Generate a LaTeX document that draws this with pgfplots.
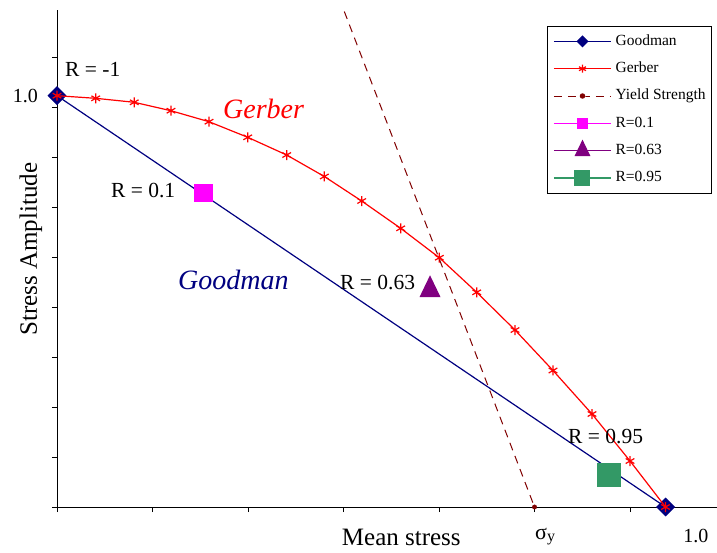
\documentclass[border=0pt]{standalone}
\usepackage{fontspec}
\setmainfont{Liberation Serif}
\usepackage{pgfplots}
\pgfplotsset{compat=1.18}
\definecolor{gnavy}{RGB}{0,0,128}
\definecolor{ydark}{RGB}{128,0,0}
\definecolor{rmag}{RGB}{255,0,255}
\definecolor{rpur}{RGB}{128,0,128}
\definecolor{rgreen}{RGB}{51,153,102}
\newcommand\fs[1]{\fontsize{#1}{#1}\selectfont}
\begin{document}
\begin{tikzpicture}
\useasboundingbox (-57pt,-45pt) rectangle (660pt,507pt);
\begin{axis}[
  at={(0pt,0pt)}, anchor=south west,
  scale only axis, width=660pt, height=497pt,
  xmin=0, xmax=1.0846, ymin=0, ymax=1.2084,
  axis x line=bottom, axis y line=left,
  axis line style={-, line width=1pt, black},
  xtick={0,0.15694,0.31389,0.47083,0.62778,0.78472,0.94167},
  ytick={0,0.1213,0.2426,0.3640,0.4853,0.6066,0.7279,0.8492,0.9706,1.0919},
  xticklabels={}, yticklabels={},
  tick align=outside, major tick length=5pt,
  tick style={black, line width=1pt},
  clip mode=individual,
  legend image code/.code={
    \path[draw=none, fill=none] (0pt,-10pt) rectangle (57pt,10pt);
    \draw[mark repeat=2,mark phase=2,#1] plot coordinates {(0pt,0pt) (28.5pt,0pt) (57pt,0pt)};
  },
  legend cell align=left,
  legend style={at={(0.7424,0.9678)}, anchor=north west, draw=black, line width=0.8pt, fill=white,
    inner xsep=6pt, inner ysep=5pt, row sep=7.3pt, column sep=4pt,
    font=\fs{15.5},
    nodes={inner sep=0pt, text height=11pt, text depth=3.5pt, anchor=west}},
]
\addplot[color=gnavy, line width=1.2pt, mark=square*, mark size=6.1pt,
  mark options={rotate=45, fill=gnavy, draw=gnavy},
  legend image post style={mark size=3.6pt}] coordinates {(0,1) (1,0)};
\addlegendentry{Goodman}
\addplot[color=red, line width=1.2pt, mark=asterisk, mark size=5pt,
  mark options={line width=1.2pt},
  legend image post style={mark size=4pt}] coordinates {
  (0,1) (0.0636,0.9937) (0.1269,0.9840) (0.1873,0.9635) (0.2498,0.9368)
  (0.3134,0.8989) (0.3775,0.8558) (0.4393,0.8036) (0.5007,0.7440)
  (0.5648,0.6776) (0.6283,0.6061) (0.6897,0.5220) (0.7527,0.4303)
  (0.8151,0.3319) (0.8792,0.2261) (0.9417,0.1118) (1.0,0)};
\addlegendentry{Gerber}
\addplot[color=ydark, line width=1pt, dash pattern=on 8pt off 6pt, mark=none,
  legend image post style={mark=*, mark size=2.2pt, mark options={solid}}]
  coordinates {(0.4474,1.3) (0.7847,0)};
\addlegendentry{Yield Strength}
\addplot[color=ydark, mark=*, mark size=2.2pt, only marks, forget plot] coordinates {(0.7847,0)};
\addplot[color=rmag, line width=1.2pt, mark=square*, mark size=8.6pt,
  mark options={fill=rmag},
  legend image post style={mark size=4.9pt}] coordinates {(0.2408,0.7639)};
\addlegendentry{R=0.1}
\addplot[color=rpur, line width=1.2pt, mark=triangle*, mark size=11pt,
  mark options={yscale=1.2, fill=rpur},
  legend image post style={mark size=8pt}] coordinates {(0.613,0.528)};
\addlegendentry{R=0.63}
\addplot[color=rgreen, line width=1.2pt, mark=square*, mark size=11.5pt,
  mark options={fill=rgreen},
  legend image post style={mark size=7.4pt}] coordinates {(0.9068,0.0783)};
\addlegendentry{R=0.95}

\node[inner sep=0pt, anchor=base west, font=\fs{21.5}] at (axis cs:0.0131,1.0455) {R = -1};
\node[inner sep=0pt, anchor=base west, font={\fs{28}\itshape}, text=red] at (axis cs:0.2728,0.9458) {Gerber};
\node[inner sep=0pt, anchor=base west, font={\fs{28}\itshape}, text=gnavy] at (axis cs:0.1989,0.5300) {Goodman};
\node[inner sep=0pt, anchor=base west, font=\fs{21.5}] at (axis cs:0.0887,0.7537) {R = 0.1};
\node[inner sep=0pt, anchor=base west, font=\fs{21.5}] at (axis cs:0.4651,0.5300) {R = 0.63};
\node[inner sep=0pt, anchor=base west, font=\fs{21.5}] at (axis cs:0.8398,0.1556) {R = 0.95};
\node[inner sep=0pt, anchor=base west, font=\fs{22}] at (axis cs:0.7855,-0.0778) {σ\raisebox{-0.25ex}{\fs{16}y}};
\node[inner sep=0pt, anchor=base west, font=\fs{20}] at (axis cs:1.0288,-0.0875) {1.0};
\node[inner sep=0pt, anchor=base east, font=\fs{20}] at (axis cs:-0.0312,0.9847) {1.0};
\node[inner sep=0pt, anchor=base west, font=\fs{25}] at (axis cs:0.4679,-0.0948) {Mean stress};
\node[inner sep=0pt, anchor=base, rotate=90, font=\fs{25}] at (axis cs:-0.0329,0.6273) {Stress Amplitude};
\end{axis}
\end{tikzpicture}
\end{document}
